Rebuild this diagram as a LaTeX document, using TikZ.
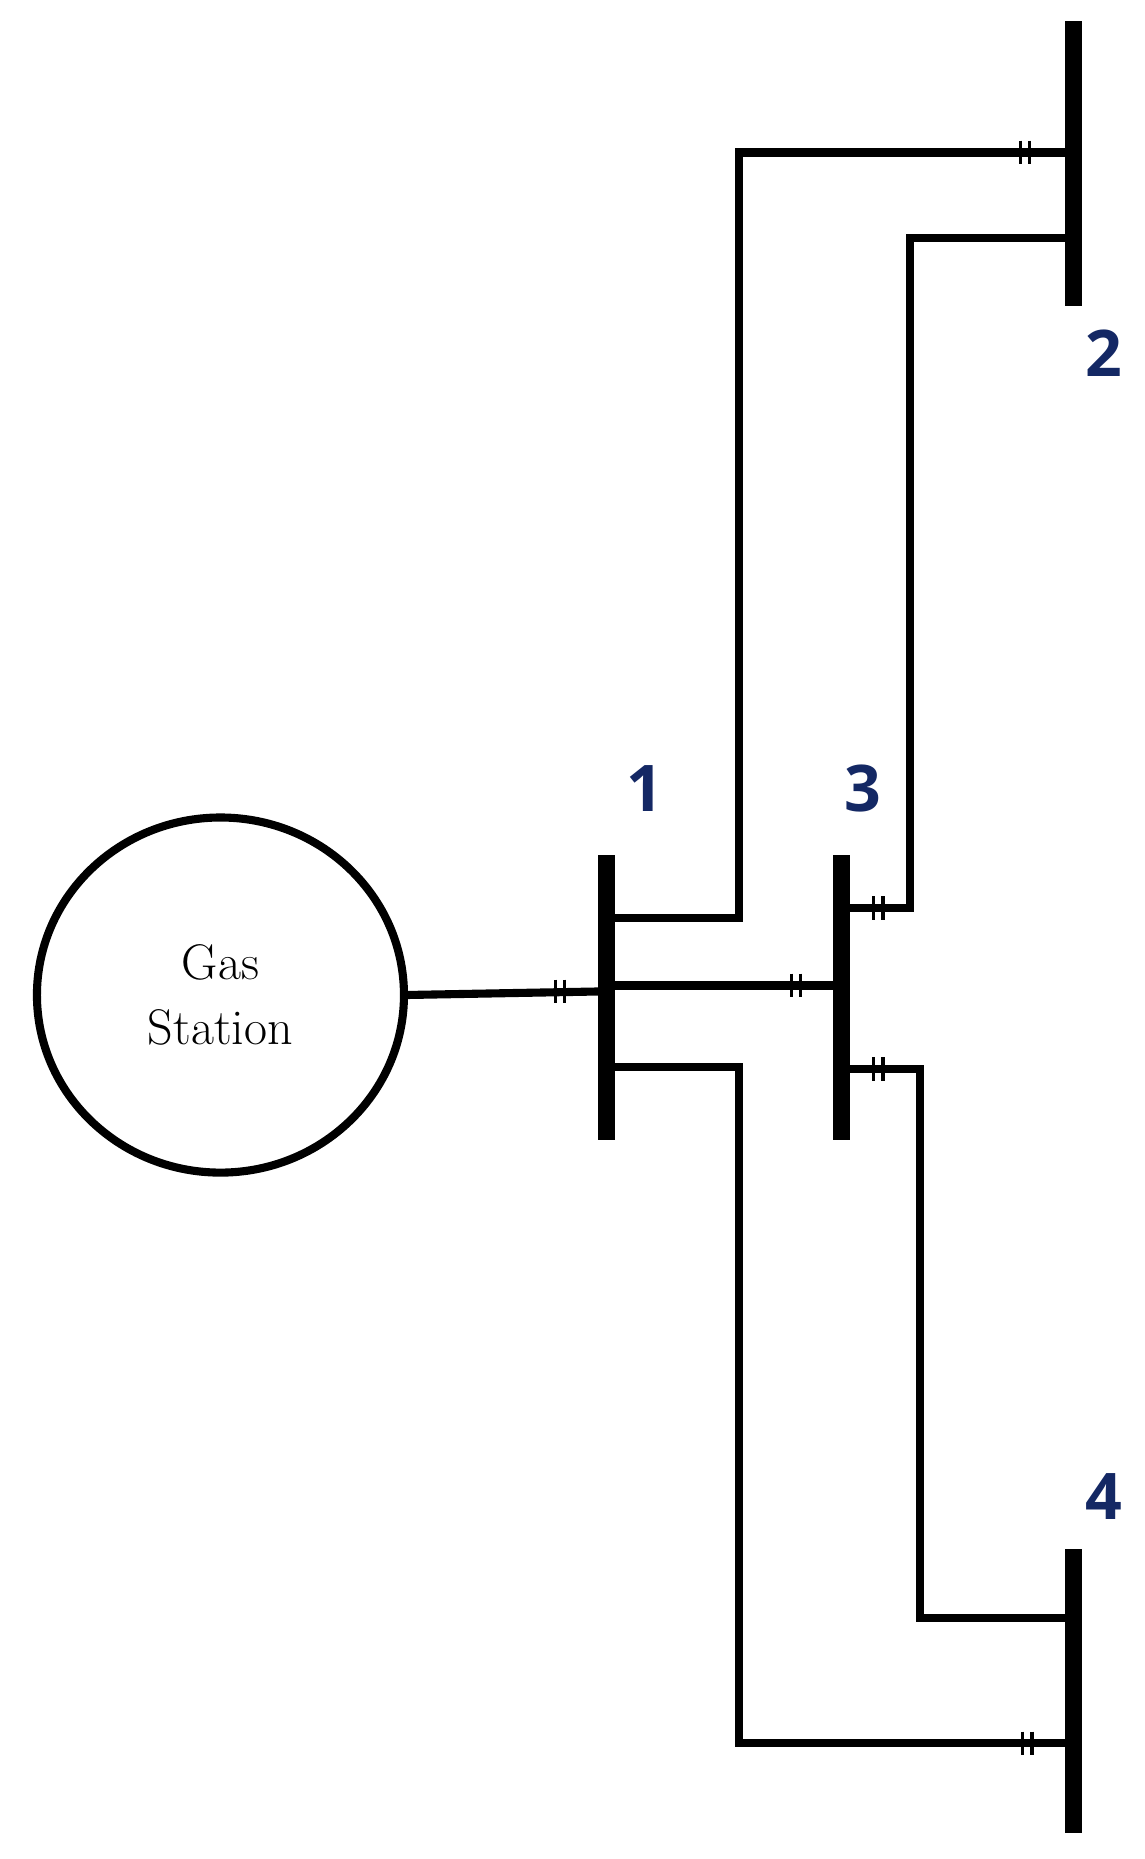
\documentclass[tikz,border=0pt]{standalone}
\usetikzlibrary{shapes.geometric}
\usepackage{fontspec}
\newfontfamily\lab{Open Sans}
\definecolor{navy}{RGB}{20,40,100}
\begin{document}
\begin{tikzpicture}[x=0.5pt,y=-0.5pt,
  bus/.style={draw=none,fill=black,minimum width=7pt,inner sep=0pt,outer sep=0pt,rectangle},
  pipe/.style={line width=3.4pt},
  num/.style={text=navy,font=\lab\bfseries\fontsize{27}{30}\selectfont},
  tk/.style={line width=1.3pt}]
\useasboundingbox (0,0) rectangle (960,1560);
\node[draw,line width=3.4pt,ellipse,inner sep=0pt,outer sep=0pt,
  minimum width=154pt,minimum height=149pt,align=center,
  font=\fontsize{21}{27}\selectfont] (gs) at (185,835) {Gas\\Station};
\node[bus,minimum height=119.5pt] (b1) at (509,837) {};
\node[bus,minimum height=119.5pt] (b3) at (706,837) {};
\node[bus,minimum height=119.5pt] (b2) at (901,137) {};
\node[bus,minimum height=119pt] (b4) at (901,1419) {};
\node[num] at (541,662) {1};
\node[num] at (724,662) {3};
\node[num] at (926,296) {2};
\node[num] at (926,1256) {4};
\newcommand\ticks[2]{\draw[tk] (#1-4,#2-10) -- ++(0,20) (#1+4,#2-10) -- ++(0,20);}
\draw[pipe] (gs.east) -- (b1.west |- 0,832);
\ticks{470}{832}
\draw[pipe] (b1.east |- 0,827) -- (b3.west |- 0,827);
\ticks{668}{827}
\draw[pipe] (b1.east |- 0,770) -| (620,128) -- (b2.west |- 0,128);
\ticks{860}{128}
\draw[pipe] (b1.east |- 0,895) -| (620,1463) -- (b4.west |- 0,1463);
\ticks{862}{1463}
\draw[pipe] (b3.east |- 0,762) -| (764,200) -- (b2.west |- 0,200);
\ticks{737}{762}
\draw[pipe] (b3.east |- 0,897) -| (772,1358) -- (b4.west |- 0,1358);
\ticks{737}{897}
\end{tikzpicture}
\end{document}
